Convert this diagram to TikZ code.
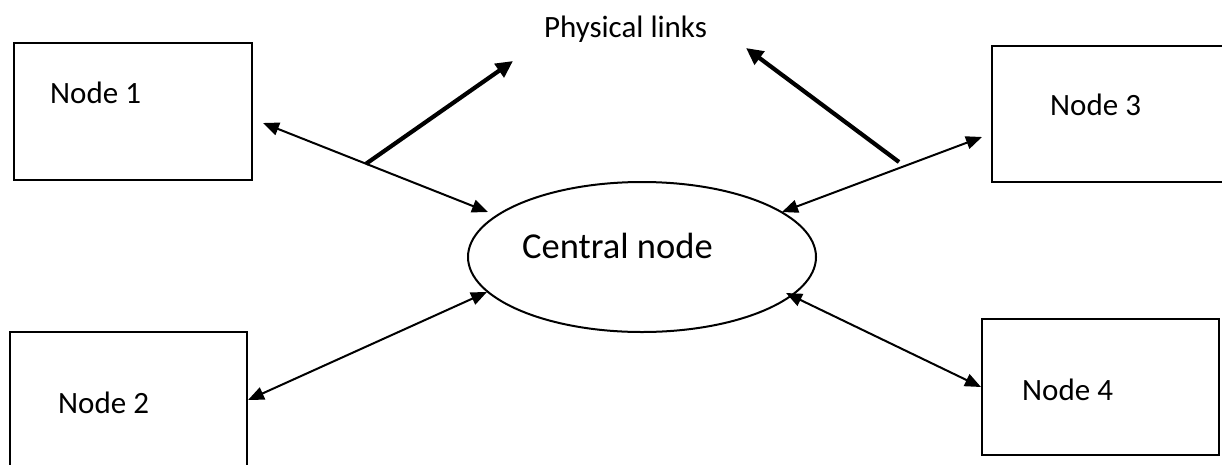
\documentclass[tikz,border=0pt]{standalone}
\usepackage{fontspec}
\setmainfont{Carlito}
\usetikzlibrary{arrows.meta,shapes.geometric}
\tikzset{
  box/.style={draw, line width=2pt, rectangle, inner sep=0pt},
  hub/.style={draw, line width=2pt, ellipse, inner sep=0pt},
  lbl/.style={inner sep=0pt, anchor=base west, font=\fontsize{31}{37}\selectfont},
  link/.style={line width=2pt, {Triangle[length=16pt,width=13pt]}-{Triangle[length=16pt,width=13pt]}},
  phys/.style={line width=4.2pt, -{Triangle[length=17pt,width=16pt]}},
}
\begin{document}
\begin{tikzpicture}[x=1pt,y=-1pt]
  \useasboundingbox (0,0) rectangle (1222,464);

  % peripheral nodes
  \node[box, minimum width=238pt, minimum height=137pt] (n1) at (133,111.5) {};
  \node[box, minimum width=237pt, minimum height=138pt] (n2) at (128.5,401) {};
  \node[box, minimum width=234pt, minimum height=136pt] (n3) at (1109,114) {};
  \node[box, minimum width=237pt, minimum height=136pt] (n4) at (1100.5,387) {};
  \node[lbl] (t1) at (50,103) {Node 1};
  \node[lbl] (t2) at (58,413) {Node 2};
  \node[lbl] (t3) at (1050,115) {Node 3};
  \node[lbl] (t4) at (1022,400) {Node 4};

  % central node
  \node[hub, minimum width=348pt, minimum height=150pt] (c) at (642,257) {};
  \node[inner sep=0pt, anchor=base west, font=\fontsize{36.5}{44}\selectfont] (tc) at (522,258) {Central node};

  % caption for the physical links
  \node[inner sep=0pt, anchor=base, font=\fontsize{31}{37}\selectfont] (pl) at (625.5,37) {Physical links};

  % arrow ends beside each node
  \coordinate (a1) at (263,123);  \coordinate (b1) at (488,212);
  \coordinate (a2) at (248,400);  \coordinate (b2) at (487,292);
  \coordinate (a3) at (982,137);  \coordinate (b3) at (782,212);
  \coordinate (a4) at (981,387);  \coordinate (b4) at (786,293);

  % links to the central node
  \draw[link] (a1) -- (b1);
  \draw[link] (a2) -- (b2);
  \draw[link] (a3) -- (b3);
  \draw[link] (a4) -- (b4);

  % pointers to the caption
  \path (a1) -- (b1) coordinate[pos=0.458] (j1);
  \coordinate (j3) at (899,162);
  \coordinate (p1) at (513,61);
  \coordinate (p3) at (746,48);
  \draw[phys] (j1) -- (p1);
  \draw[phys] (j3) -- (p3);
\end{tikzpicture}
\end{document}
